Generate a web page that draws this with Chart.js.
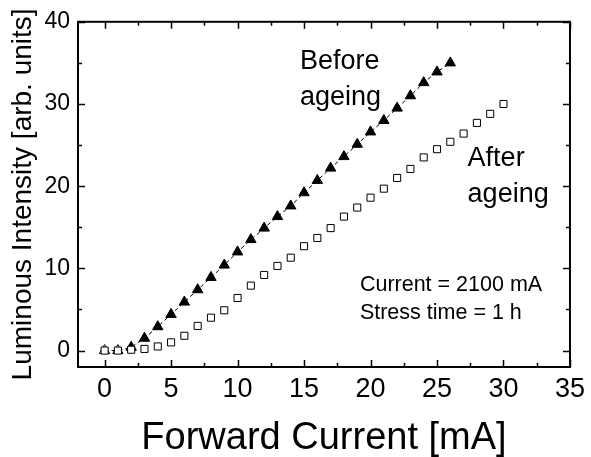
<!DOCTYPE html>
<html>
<head>
<meta charset="utf-8">
<script src="https://cdn.jsdelivr.net/npm/chart.js@4.4.0/dist/chart.umd.min.js"></script>
<style>
  html, body { margin: 0; padding: 0; background: #fff; }
</style>
</head>
<body>
<canvas id="chart" width="591" height="457"></canvas>
<script>
// forward current (mA), one point per mA
const current = [0, 1, 2, 3, 4, 5, 6, 7, 8, 9, 10, 11, 12, 13, 14, 15, 16, 17, 18, 19, 20,
  21, 22, 23, 24, 25, 26, 27, 28, 29, 30];
const beforeAgeing = [0, 0, 0.4, 1.5, 2.9, 4.4, 5.9, 7.4, 8.9, 10.4, 12.0, 13.5, 14.9, 16.3,
  17.6, 19.2, 20.7, 22.2, 23.6, 25.1, 26.6, 28.0, 29.5, 31.0, 32.6, 33.9, 35.0];
const afterAgeing = [0, 0, 0.1, 0.2, 0.5, 1.0, 1.8, 3.0, 4.0, 4.9, 6.4, 7.9, 9.2, 10.3, 11.3,
  12.7, 13.7, 14.9, 16.3, 17.4, 18.6, 19.7, 21.0, 22.1, 23.5, 24.5, 25.4, 26.4, 27.7, 28.8, 30.0];

const xTicks = [0, 5, 10, 15, 20, 25, 30, 35];
const xMinor = [2.5, 7.5, 12.5, 17.5, 22.5, 27.5, 32.5];
const yTicks = [0, 10, 20, 30, 40];
const yMinor = [5, 15, 25, 35];

const FONT = "'Liberation Sans', Arial, sans-serif";

// text inside the plot, anchored in data units
const notes = [
  { text: 'Before', x: 14.7, y: 34.3, size: 27 },
  { text: 'ageing', x: 14.7, y: 29.9, size: 27 },
  { text: 'After', x: 27.3, y: 22.5, size: 27 },
  { text: 'ageing', x: 27.3, y: 18.1, size: 27 },
  { text: 'Current = 2100 mA', x: 19.2, y: 7.3, size: 21.5 },
  { text: 'Stress time = 1 h', x: 19.2, y: 3.9, size: 21.5 }
];

const frame = {
  id: 'frame',
  afterDraw(chart) {
    const { ctx, chartArea: a, scales: { x, y } } = chart;
    ctx.save();
    ctx.strokeStyle = '#000';
    ctx.lineWidth = 2;
    ctx.strokeRect(a.left, a.top, a.right - a.left, a.bottom - a.top);
    ctx.lineWidth = 1.5;
    ctx.beginPath();
    const tickX = (v, len) => {
      const px = Math.round(x.getPixelForValue(v)) + 0.5;
      ctx.moveTo(px, a.bottom); ctx.lineTo(px, a.bottom - len);
      ctx.moveTo(px, a.top); ctx.lineTo(px, a.top + len);
    };
    const tickY = (v, len) => {
      const py = Math.round(y.getPixelForValue(v)) + 0.5;
      ctx.moveTo(a.left, py); ctx.lineTo(a.left + len, py);
      ctx.moveTo(a.right, py); ctx.lineTo(a.right - len, py);
    };
    xTicks.forEach(v => tickX(v, 7));
    xMinor.forEach(v => tickX(v, 4));
    yTicks.forEach(v => tickY(v, 7));
    yMinor.forEach(v => tickY(v, 4));
    ctx.stroke();

    ctx.fillStyle = '#000';
    ctx.textAlign = 'left';
    ctx.textBaseline = 'alphabetic';
    notes.forEach(n => {
      ctx.font = n.size + 'px ' + FONT;
      ctx.fillText(n.text, x.getPixelForValue(n.x), y.getPixelForValue(n.y));
    });
    ctx.restore();
  }
};

new Chart(document.getElementById('chart'), {
  type: 'scatter',
  data: {
    datasets: [
      {
        label: 'After ageing',
        data: afterAgeing.map((v, i) => ({ x: current[i], y: v })),
        showLine: false,
        pointStyle: 'rect',
        pointRadius: 5,
        pointBorderWidth: 1,
        pointBorderColor: '#000',
        pointBackgroundColor: '#fff'
      },
      {
        label: 'Before ageing',
        data: beforeAgeing.map((v, i) => ({ x: current[i], y: v })),
        showLine: true,
        borderColor: '#000',
        borderWidth: 1,
        borderDash: [4, 3],
        pointStyle: 'triangle',
        pointRadius: 6,
        pointBorderWidth: 1,
        pointBorderColor: '#000',
        pointBackgroundColor: c => (c.dataIndex < 2 ? '#fff' : '#000')
      }
    ]
  },
  options: {
    responsive: false,
    animation: false,
    layout: { padding: { top: 18, right: 16, left: 0, bottom: 0 } },
    plugins: { legend: { display: false }, tooltip: { enabled: false } },
    scales: {
      x: {
        type: 'linear',
        min: -2,
        max: 35,
        afterBuildTicks: s => { s.ticks = xTicks.map(v => ({ value: v })); },
        afterFit: s => { s.height = 90; },
        grid: { display: false, drawTicks: false },
        border: { display: false },
        ticks: { color: '#000', padding: 6, maxRotation: 0, font: { family: FONT, size: 27 } },
        title: {
          display: true,
          text: 'Forward Current [mA]',
          color: '#000',
          padding: { top: 0, bottom: -4 },
          font: { family: FONT, size: 38 }
        }
      },
      y: {
        type: 'linear',
        min: -2,
        max: 40,
        afterBuildTicks: s => { s.ticks = yTicks.map(v => ({ value: v })); },
        afterFit: s => { s.width = 78; },
        grid: { display: false, drawTicks: false },
        border: { display: false },
        ticks: { color: '#000', padding: 8, font: { family: FONT, size: 23 } },
        title: {
          display: true,
          text: 'Luminous Intensity [arb. units]',
          color: '#000',
          padding: { top: 6, bottom: 0 },
          font: { family: FONT, size: 28 }
        }
      }
    }
  },
  plugins: [frame]
});
</script>
</body>
</html>
